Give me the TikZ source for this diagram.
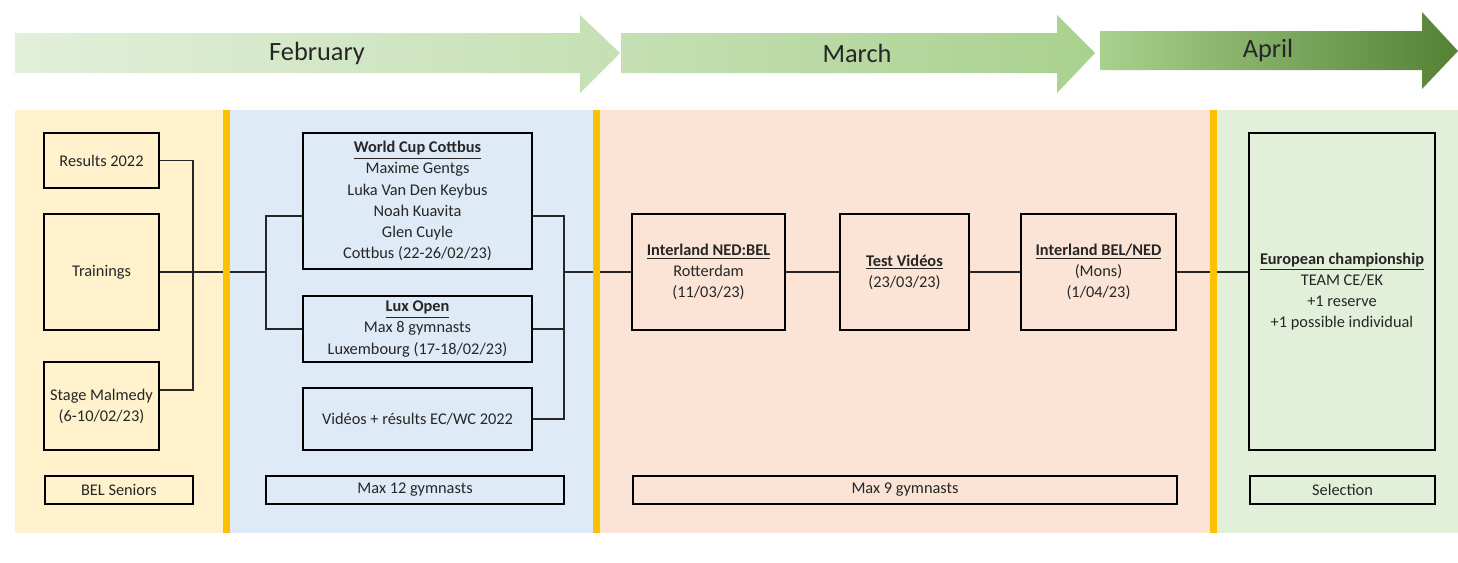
\documentclass[tikz,border=0pt]{standalone}
\usepackage{fontspec}
\setmainfont{Carlito}
\usetikzlibrary{positioning}

\definecolor{febPanelColour}{HTML}{FFF2CC}
\definecolor{cupPanelColour}{HTML}{DEEBF7}
\definecolor{marPanelColour}{HTML}{FBE4D6}
\definecolor{aprPanelColour}{HTML}{E2F0D9}
\definecolor{splitColour}{HTML}{FFC000}
\definecolor{greenA}{HTML}{E2EFDA}
\definecolor{greenB}{HTML}{C5E0B4}
\definecolor{greenC}{HTML}{A9D18E}
\definecolor{greenD}{HTML}{548235}

\begin{document}
\begin{tikzpicture}[x=0.02cm,y=-0.02cm,
	event/.style={draw=black,line width=1.4pt,inner sep=0pt,align=center,text=black!85,font=\fontsize{9.3}{12}\selectfont},
	tag/.style={draw=black,line width=0.9pt,inner sep=0pt,text=black!85,font=\fontsize{9.3}{12}\selectfont,minimum height=0.56cm},
	bsize/.style 2 args={minimum width=#1*0.02cm,minimum height=#2*0.02cm},
	month/.style={text=black!85,font=\fontsize{15}{18}\selectfont},
	link/.style={draw=black!85,line width=0.6pt}]
\useasboundingbox (0,0) rectangle (1458,562);

% month arrows
\shade[left color=greenA,right color=greenB] (15,33) -- (580,33) -- (580,15) -- (620,53) -- (580,93) -- (580,73) -- (15,73) -- cycle;
\shade[left color=greenB,right color=greenC] (621,33) -- (1057,33) -- (1057,15) -- (1095,53) -- (1057,93) -- (1057,73) -- (621,73) -- cycle;
\shade[left color=greenC,right color=greenD] (1100,31) -- (1422,31) -- (1422,12) -- (1458,51) -- (1422,89) -- (1422,70) -- (1100,70) -- cycle;
\node[month] (feb) at (317,53) {February};
\node[month] (mar) at (857,53) {March};
\node[month] (apr) at (1268,50) {April};

% panels
\fill[febPanelColour] (15,110) rectangle (223,533);
\fill[cupPanelColour] (230,110) rectangle (593,533);
\fill[marPanelColour] (600,110) rectangle (1210,533);
\fill[aprPanelColour] (1217,110) rectangle (1458,533);

% events
\node[event,bsize={115}{55}] (results) at (101.5,160.5) {Results 2022};
\node[event,bsize={115}{116}] (trainings) at (101.5,272) {Trainings};
\node[event,bsize={115}{88}] (stage) at (101.5,406) {Stage Malmedy\\(6-10/02/23)};
\node[event,bsize={229}{136}] (cottbus) at (417.5,201) {\underline{\textbf{World Cup Cottbus}}\\Maxime Gentgs\\Luka Van Den Keybus\\Noah Kuavita\\Glen Cuyle\\Cottbus (22-26/02/23)};
\node[event,bsize={229}{66}] (lux) at (417.5,329) {\underline{\textbf{Lux Open}}\\Max 8 gymnasts\\Luxembourg (17-18/02/23)};
\node[event,bsize={229}{62}] (videos) at (417.5,419) {Vidéos + résults EC/WC 2022};
\node[event,bsize={153}{116}] (nedbel) at (708.5,272) {\underline{\textbf{Interland NED:BEL}}\\Rotterdam\\(11/03/23)};
\node[event,bsize={129}{116}] (test) at (904.5,272) {\underline{\textbf{Test Vidéos}}\\(23/03/23)};
\node[event,bsize={155}{116}] (belned) at (1098.5,272) {\underline{\textbf{Interland BEL/NED}}\\(Mons)\\(1/04/23)};
\node[event,bsize={186}{317}] (euro) at (1342,291.5) {\underline{\textbf{European championship}}\\TEAM CE/EK\\+1 reserve\\+1 possible individual};

% bottom tags
\node[tag,fill=febPanelColour,minimum width=148*0.02cm] (seniors) at (119,490) {BEL Seniors};
\node[tag,fill=cupPanelColour,minimum width=298*0.02cm] (max12) at (415,490) {Max 12 gymnasts};
\node[tag,fill=marPanelColour,minimum width=544*0.02cm] (max9) at (905,490) {Max 9 gymnasts};
\node[tag,fill=aprPanelColour,minimum width=185*0.02cm] (select) at (1342.5,490) {Selection};

% links
\coordinate (lbus) at (193,272);
\coordinate (cbus) at (266,272);
\coordinate (rbus) at (564,272);
\draw[link] (results.east) -| (lbus) |- ([yshift=0.32cm]stage.west -| stage.east);
\draw[link] (trainings.east) -- (cbus);
\draw[link] ([yshift=-0.3cm]cottbus.west) -| (cbus) |- (lux.west);
\draw[link] ([yshift=-0.3cm]cottbus.east) -| (rbus) |- (videos.east);
\draw[link] (lux.east) -| (rbus);
\draw[link] (rbus) -- (nedbel.west);
\draw[link] (nedbel.east) -- (test.west);
\draw[link] (test.east) -- (belned.west);
\draw[link] (belned.east) -- (belned.east -| euro.west);

% month splits
\foreach \x in {223,593,1210}
{%
	\fill[splitColour] (\x,110) rectangle (\x+7,533);
}%
\end{tikzpicture}
\end{document}
